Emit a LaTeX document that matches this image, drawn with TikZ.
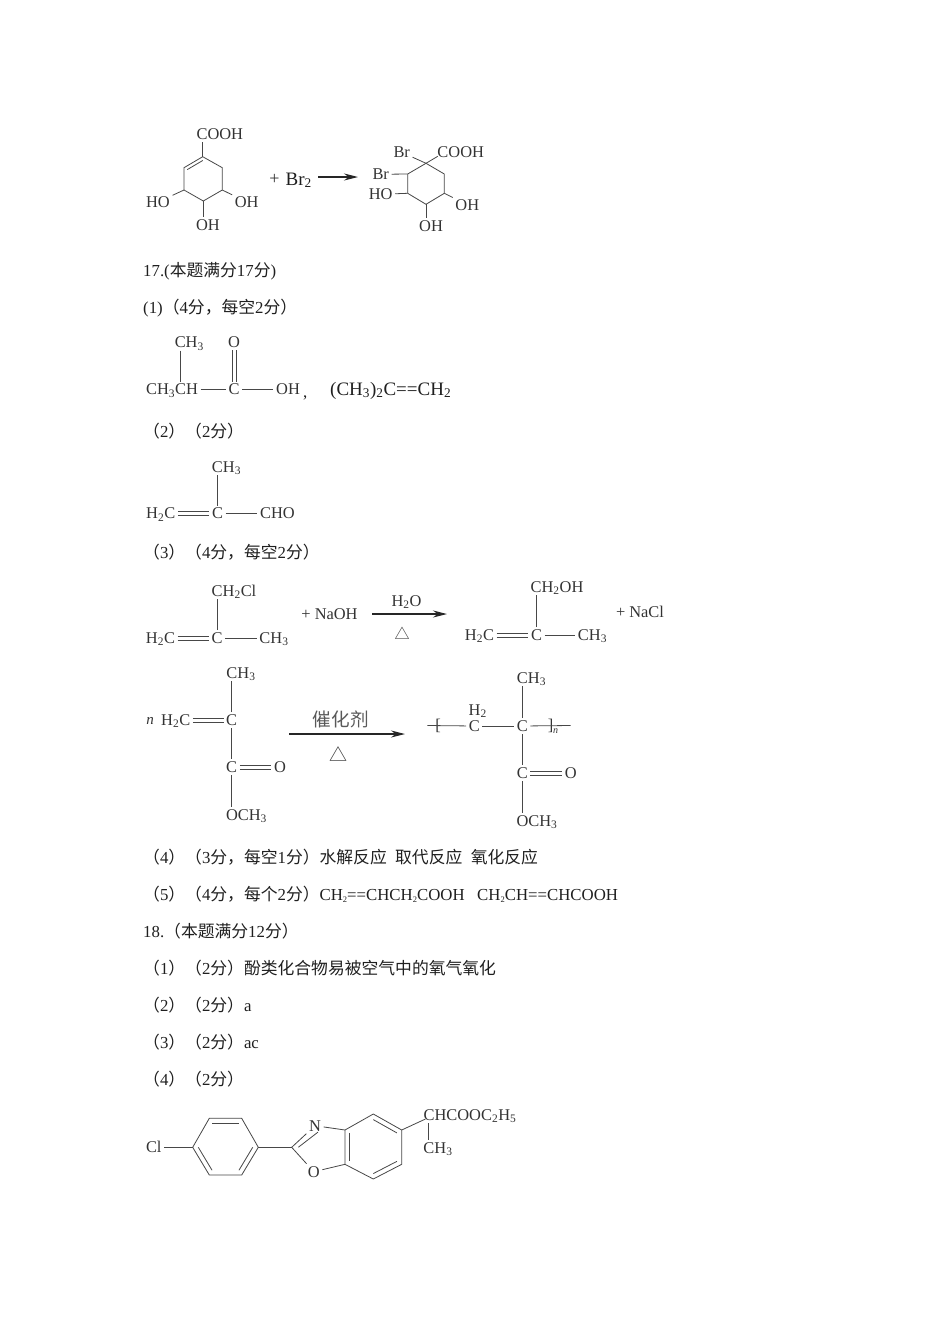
\documentclass[tikz,border=0pt]{standalone}
\usepackage{fontspec}
\setmainfont{Liberation Serif}
\newfontfamily\cjk{Noto Sans CJK SC}
\usetikzlibrary{arrows.meta,calc}
\newcommand{\zh}[1]{{\cjk #1}}
\newcommand{\sbs}[1]{\textsubscript{#1}}
\newcommand{\sbn}[1]{\raisebox{-2pt}{\fontsize{8.5}{9}\selectfont #1}}
\newcommand{\innerbond}[3]{\draw[bond] ($(#1)!.17!(#3)$) -- ($(#2)!.17!(#3)$);}
\newcommand{\dblh}[2]{\draw[bond,transform canvas={yshift=1.9pt}] (#1) -- (#2); \draw[bond,transform canvas={yshift=-1.9pt}] (#1) -- (#2);}
\newcommand{\dblv}[2]{\draw[bond,transform canvas={xshift=1.9pt}] (#1) -- (#2); \draw[bond,transform canvas={xshift=-1.9pt}] (#1) -- (#2);}
\tikzset{
    txt/.style={anchor=base west,inner sep=0pt,text=black!88,font=\fontsize{16.8}{20}\selectfont},
    atom/.style={inner sep=2.5pt,text=black!80,text height=10.6pt,text depth=0pt,font=\fontsize{16.4}{20}\selectfont},
    bond/.style={line width=.8pt,draw=black!72},
    rxn/.style={line width=1.1pt,draw=black!85,-{Stealth[length=14pt,width=7pt]}}
}
\begin{document}
\begin{tikzpicture}[x=1pt,y=-1pt]
    \path[use as bounding box] (0,0) rectangle (950,1344);
    %% Text lines
    \node[txt] (h17) at (143,276) {17.(\zh{本题满分}17\zh{分})};
    \node[txt] (a1) at (143,313) {(1)\zh{（}4\zh{分，每空}2\zh{分）}};
    \node[txt] (a2) at (143,437) {\zh{（}2\zh{）（}2\zh{分）}};
    \node[txt] (a3) at (143,558) {\zh{（}3\zh{）（}4\zh{分，每空}2\zh{分）}};
    \node[txt] (a4) at (143,863) {\zh{（}4\zh{）（}3\zh{分，每空}1\zh{分）水解反应}\ \ \zh{取代反应}\ \ \zh{氧化反应}};
    \node[txt] (a5) at (143,900) {\zh{（}5\zh{）（}4\zh{分，每个}2\zh{分）}CH\sbn{2}==CHCH\sbn{2}COOH\ \ \ CH\sbn{2}CH==CHCOOH};
    \node[txt] (h18) at (143,937) {18.\zh{（本题满分}12\zh{分）}};
    \node[txt] (b1) at (143,974) {\zh{（}1\zh{）（}2\zh{分）酚类化合物易被空气中的氧气氧化}};
    \node[txt] (b2) at (143,1011) {\zh{（}2\zh{）（}2\zh{分）}a};
    \node[txt] (b3) at (143,1048) {\zh{（}3\zh{）（}2\zh{分）}ac};
    \node[txt] (b4) at (143,1085) {\zh{（}4\zh{）（}2\zh{分）}};
    %% Left ring with Br2
    \coordinate (r1) at (202.7,156.7);
    \coordinate (r2) at (184,167.7);
    \coordinate (r3) at (184,190);
    \coordinate (r4) at (203.3,201);
    \coordinate (r5) at (222.3,190);
    \coordinate (r6) at (222.3,167.7);
    \coordinate (rc) at (203,179);
    \node[atom] (cooha) at (219.8,134) {COOH};
    \node[atom] (hoa) at (158,202) {HO};
    \node[atom] (oha) at (246.7,202) {OH};
    \node[atom] (ohb) at (208,225) {OH};
    \draw[bond] (r1) -- (r2) -- (r3) -- (r4) -- (r5) -- (r6) -- cycle;
    \innerbond{r1}{r2}{rc}
    \draw[bond] (r1) -- (r1 |- cooha.south);
    \draw[bond] (r3) -- (hoa);
    \draw[bond] (r5) -- (oha);
    \draw[bond] (r4) -- (r4 |- ohb.north);
    \node[atom,inner sep=0pt,font=\fontsize{18}{20}\selectfont] (plusa) at (274.5,179) {+};
    \node[txt,font=\fontsize{19}{20}\selectfont] (bra) at (285.5,185) {Br\sbs{2}};
    \coordinate (ara) at (318,177);
    \coordinate (arb) at (358,177);
    \draw[rxn] (ara) -- (arb);
    %% Right ring with Br2
    \coordinate (s1) at (426,163.3);
    \coordinate (s2) at (444.3,174);
    \coordinate (s3) at (444.3,193.3);
    \coordinate (s4) at (426,204.3);
    \coordinate (s5) at (407.7,193.3);
    \coordinate (s6) at (407.7,174);
    \node[atom] (coohb) at (460.7,152.3) {COOH};
    \node[atom] (brb) at (401.7,152.3) {Br};
    \node[atom] (brc) at (380.7,174.3) {Br};
    \node[atom] (hob) at (380.7,194.3) {HO};
    \node[atom] (ohc) at (467.3,204.8) {OH};
    \node[atom] (ohd) at (431,225.7) {OH};
    \draw[bond] (s1) -- (s2) -- (s3) -- (s4) -- (s5) -- (s6) -- cycle;
    \draw[bond] (s1) -- (brb);
    \draw[bond] (s1) -- ([xshift=3pt,yshift=-4pt]coohb.west);
    \draw[bond] (s6) -- (brc);
    \draw[bond] (s5) -- (hob);
    \draw[bond] (s3) -- (ohc);
    \draw[bond] (s4) -- (s4 |- ohd.north);
    %% Part 1
    \node[atom] (cha) at (189.3,342.5) {CH\sbs{3}};
    \node[atom] (oa) at (234,342) {O};
    \node[atom] (chb) at (172,389.5) {CH\sbs{3}CH};
    \node[atom] (ca) at (234,389.5) {C};
    \node[atom] (ohe) at (288,389.5) {OH};
    \node[txt] (comma) at (303,397) {,};
    \node[txt,font=\fontsize{19}{20}\selectfont] (isob) at (330,395) {(CH\sbs{3})\sbs{2}C==CH\sbs{2}};
    \draw[bond] (cha.south -| 180,0) -- (chb.north -| 180,0);
    \dblv{oa}{ca}
    \draw[bond] (chb) -- (ca);
    \draw[bond] (ca) -- (ohe);
    %% Part 2
    \node[atom] (chc) at (226.5,467) {CH\sbs{3}};
    \node[atom] (cb) at (217.5,513.5) {C};
    \node[atom] (hca) at (160.7,513.5) {H\sbs{2}C};
    \node[atom] (cho) at (277.5,513.5) {CHO};
    \draw[bond] (cb) -- (cb |- chc.south);
    \dblh{hca}{cb}
    \draw[bond] (cb) -- (cho);
    %% Part 3 left
    \node[atom] (chcl) at (234,591) {CH\sbs{2}Cl};
    \node[atom] (cc) at (217,638) {C};
    \node[atom] (hcb) at (160.5,638) {H\sbs{2}C};
    \node[atom] (chd) at (274,638) {CH\sbs{3}};
    \draw[bond] (cc) -- (cc |- chcl.south);
    \dblh{hcb}{cc}
    \draw[bond] (cc) -- (chd);
    \node[atom] (naoh) at (329.5,614) {+ NaOH};
    \coordinate (arc) at (372,614);
    \coordinate (ard) at (447,614);
    \draw[rxn] (arc) -- (ard);
    \node[atom] (water) at (406.5,601) {H\sbs{2}O};
    \node[atom,font=\cjk\fontsize{15}{18}\selectfont] (heata) at (402,634.5) {△};
    %% Part 3 right
    \node[atom] (choh) at (557,587) {CH\sbs{2}OH};
    \node[atom] (cd) at (536.5,635) {C};
    \node[atom] (hcc) at (479.5,635) {H\sbs{2}C};
    \node[atom] (che) at (592.5,635) {CH\sbs{3}};
    \draw[bond] (cd) -- (cd |- choh.south);
    \dblh{hcc}{cd}
    \draw[bond] (cd) -- (che);
    \node[atom] (nacl) at (640,612) {+ NaCl};
    %% Monomer
    \node[atom] (chf) at (241,673) {CH\sbs{3}};
    \node[atom,font=\itshape\fontsize{15}{18}\selectfont] (na) at (150,719) {n};
    \node[atom] (hcd) at (175.7,720) {H\sbs{2}C};
    \node[atom] (ce) at (231.7,720) {C};
    \node[atom] (cf) at (231.7,767.3) {C};
    \node[atom] (ob) at (280,767.3) {O};
    \node[atom] (ocha) at (246.5,815) {OCH\sbs{3}};
    \draw[bond] (ce) -- (ce |- chf.south);
    \dblh{hcd}{ce}
    \draw[bond] (ce) -- (cf);
    \dblh{cf}{ob}
    \draw[bond] (cf) -- (cf |- ocha.north);
    \coordinate (are) at (289,734);
    \coordinate (arf) at (405,734);
    \draw[rxn] (are) -- (arf);
    \node[atom,font=\cjk\fontsize{18.6}{20}\selectfont,text=black!65] (cat) at (340.7,721) {催化剂};
    \node[atom,font=\cjk\fontsize{18}{20}\selectfont] (heatb) at (338.5,756) {△};
    %% Polymer
    \coordinate (pl) at (427.3,725.5);
    \coordinate (pr) at (570.7,725.5);
    \node[atom,inner sep=0pt] (bkl) at (438,725.5) {[};
    \node[atom,inner sep=0pt] (bkr) at (550.7,725.5) {]};
    \node[atom,inner sep=0pt,font=\itshape\fontsize{10}{12}\selectfont,text height=6pt] (nb) at (555.7,730.5) {n};
    \node[atom] (cg) at (474.3,726) {C};
    \node[atom] (hh) at (477.7,710) {H\sbs{2}};
    \node[atom] (ch) at (522.3,726) {C};
    \node[atom] (chg) at (531.5,678) {CH\sbs{3}};
    \node[atom] (ci) at (522.3,773.3) {C};
    \node[atom] (oc) at (570.7,773.3) {O};
    \node[atom] (ochb) at (537,821) {OCH\sbs{3}};
    \draw[bond] (pl) -- (cg);
    \draw[bond] (cg) -- (ch);
    \draw[bond] (ch) -- (pr);
    \draw[bond] (ch) -- (ch |- chg.south);
    \draw[bond] (ch) -- (ci);
    \dblh{ci}{oc}
    \draw[bond] (ci) -- (ci |- ochb.north);
    %% Last structure
    \node[atom] (cla) at (153.8,1147.3) {Cl};
    \coordinate (p1) at (192.7,1147.3);
    \coordinate (p2) at (209.3,1118.3);
    \coordinate (p3) at (241.7,1118.3);
    \coordinate (p4) at (258.3,1147.3);
    \coordinate (p5) at (241.7,1175);
    \coordinate (p6) at (209.3,1175);
    \coordinate (pc) at (225.5,1147);
    \draw[bond] (p1) -- (p2) -- (p3) -- (p4) -- (p5) -- (p6) -- cycle;
    \innerbond{p2}{p3}{pc}
    \innerbond{p1}{p6}{pc}
    \innerbond{p4}{p5}{pc}
    \draw[bond] (cla) -- (p1);
    \coordinate (q1) at (291.7,1147.3);
    \node[atom] (nc) at (315,1125.7) {N};
    \node[atom] (od) at (313.8,1171.7) {O};
    \coordinate (f1) at (345,1130);
    \coordinate (f2) at (345,1164.3);
    \coordinate (oxc) at (325,1147);
    \draw[bond] (p4) -- (q1);
    \draw[bond] (q1) -- (nc);
    \draw[bond] ($(q1)!.2!(oxc)$) -- ($(nc)!.3!(oxc)$);
    \draw[bond] (q1) -- (od);
    \draw[bond] (nc) -- (f1);
    \draw[bond] (od) -- (f2);
    \coordinate (t1) at (373.3,1114);
    \coordinate (t2) at (401.7,1130);
    \coordinate (t3) at (401.7,1164.3);
    \coordinate (t4) at (373.3,1179);
    \coordinate (tc) at (373.3,1147);
    \draw[bond] (f1) -- (t1) -- (t2) -- (t3) -- (t4) -- (f2) -- cycle;
    \innerbond{f1}{f2}{tc}
    \innerbond{t1}{t2}{tc}
    \innerbond{t3}{t4}{tc}
    \node[atom] (chain) at (470,1115) {CHCOOC\sbs{2}H\sbs{5}};
    \node[atom] (chh) at (438,1148) {CH\sbs{3}};
    \draw[bond] (t2) -- ([xshift=4.5pt,yshift=-4pt]chain.west);
    \draw[bond] ([xshift=8pt]chh.north west |- chain.south) -- ([xshift=8pt]chh.north west);
\end{tikzpicture}
\end{document}
